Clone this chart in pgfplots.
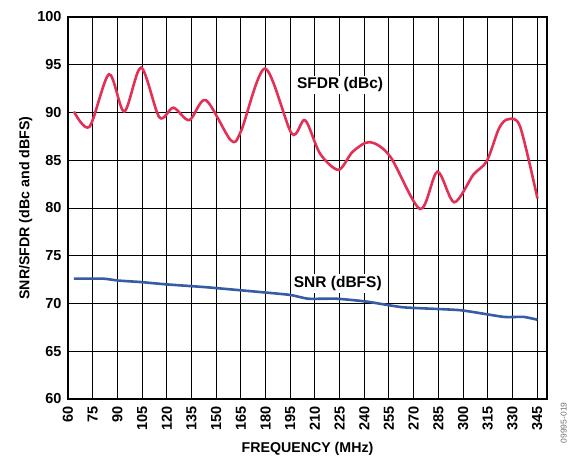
\documentclass[border=0pt]{standalone}
\usepackage{pgfplots}
\pgfplotsset{compat=1.18}
\usepackage{fontspec}
\setmainfont{Liberation Sans}
\definecolor{sfdrred}{RGB}{226,48,86}
\definecolor{snrblue}{RGB}{55,92,165}
\begin{document}
\begin{tikzpicture}[x=1pt,y=1pt]
\useasboundingbox (-68,-61) rectangle (501,399);
\begin{axis}[
  scale only axis, width=479pt, height=382pt,
  at={(0,0)}, anchor=south west,
  xmin=60, xmax=351, ymin=60, ymax=100,
  xtick={60,75,...,345}, ytick={60,65,...,100},
  /pgf/number format/assume math mode=true,
  grid=major, major grid style={black, line width=1pt},
  major tick length=0pt,
  axis line style={black, line width=1.6pt},
  tick label style={font=\bfseries\fontsize{14.5}{15}\selectfont},
  x tick label style={rotate=90, anchor=east},
  xticklabel shift=4pt, yticklabel shift=3pt,
  xlabel={FREQUENCY (MHz)}, ylabel={SNR/SFDR (dBc and dBFS)},
  label style={font=\bfseries\fontsize{14.2}{15}\selectfont},
  xlabel style={yshift=-5pt},
  ylabel style={yshift=-2pt},
  clip=false,
]
\addplot[sfdrred, line width=2.6pt, smooth, tension=0.5] coordinates {
(63.6,90.1) (73,88.5) (84.9,94.0) (94.2,90.1) (104.4,94.7) (115.5,89.5)
(124,90.5) (133.7,89.2) (143.7,91.3) (158.9,87.1) (165,88) (179.7,94.6)
(195.9,87.8) (204,89.2) (213.1,85.7) (224.3,84.0) (233,85.9) (243.5,86.9)
(255.7,85.4) (273.9,79.9) (284.4,83.8) (294.6,80.6) (306.3,83.5)
(314.4,84.9) (322,88.4) (327.6,89.3) (334.7,88.5) (345.2,81.0)
};
\addplot[snrblue, line width=2.6pt, smooth, tension=0.3] coordinates {
(63.6,72.6) (81.5,72.6) (90.6,72.4) (103.8,72.25) (120,72.0) (144.3,71.7)
(176.7,71.2) (194.9,70.9) (206,70.5) (223.3,70.5) (241.5,70.2) (263.8,69.6)
(298.2,69.3) (324.5,68.6) (336.7,68.6) (345.2,68.3)
};
\node[fill=white, font=\bfseries\fontsize{15.5}{17}\selectfont, inner sep=2pt] at (axis cs:225.3,92.9) {SFDR (dBc)};
\node[fill=white, font=\bfseries\fontsize{15.5}{17}\selectfont, inner sep=2pt] at (axis cs:223.9,72.1) {SNR (dBFS)};
\node[rotate=90, anchor=east, text=black!55, font=\fontsize{8.5}{9}\selectfont] at (rel axis cs:1.035,0) {09995-019};
\end{axis}
\end{tikzpicture}
\end{document}
